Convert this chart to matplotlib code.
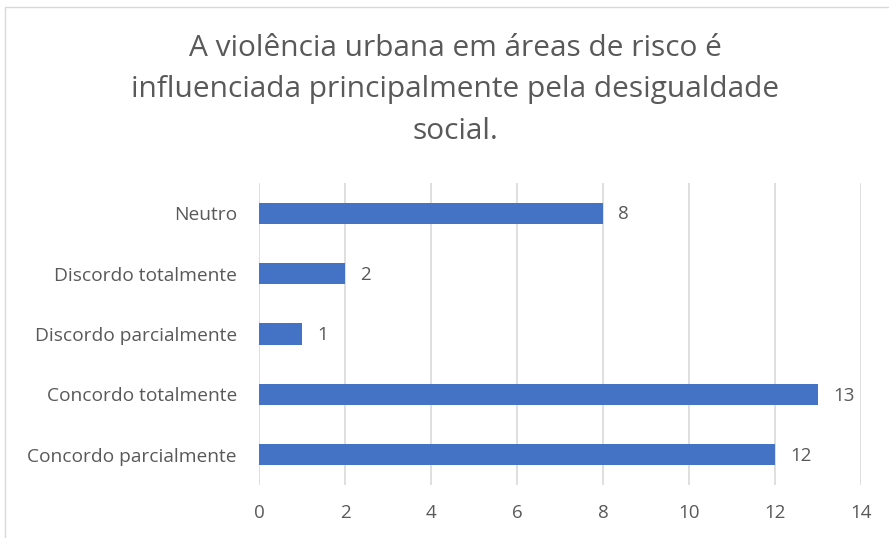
import matplotlib
matplotlib.use("Agg")
import matplotlib.pyplot as plt
from matplotlib.patches import Rectangle

categories = ["Concordo parcialmente", "Concordo totalmente", "Discordo parcialmente",
              "Discordo totalmente", "Neutro"]
values = [12, 13, 1, 2, 8]
xticks = [0, 2, 4, 6, 8, 10, 12, 14]
title = "A violência urbana em áreas de risco é\ninfluenciada principalmente pela desigualdade\nsocial."

plt.rcParams['font.family'] = ['Open Sans', 'DejaVu Sans']
grey = "#595959"

fig = plt.figure(figsize=(8.89, 5.38), dpi=100)
W, H = 889, 538
ax = fig.add_axes([259 / W, 1 - 485 / H, (861 - 259) / W, (485 - 183) / H])

# chart border
fig.patches.append(Rectangle((5 / W, -0.05), 1.1, 1 - 7 / H + 0.05, transform=fig.transFigure,
                             fill=False, edgecolor="#d9d9d9", linewidth=1.0))

ypos = range(len(categories))
ax.barh(ypos, values, height=0.35, color="#4472C4", zorder=3)
for y, v in zip(ypos, values):
    ax.text(v + 0.35, y - 0.02, str(v), va="center", ha="left", fontsize=13.5, color=grey)

ax.set_xlim(0, 14)
ax.set_ylim(-0.5, 4.5)
ax.set_xticks(xticks)
ax.set_xticklabels([str(t) for t in xticks], fontsize=13.5, color=grey)
ax.set_yticks(list(ypos))
ax.set_yticklabels(categories, fontsize=13.8, color=grey)
ax.tick_params(length=0, pad=14, axis="x")
ax.tick_params(length=0, pad=16, axis="y")
ax.xaxis.grid(True, color="#d9d9d9", linewidth=1.2, zorder=0)
for s in ax.spines.values():
    s.set_visible(False)

fig.text(455 / W, 1 - 90 / H, title, ha="center", va="center", fontsize=21.5,
         color=grey, linespacing=1.58)

fig.savefig("out.png", dpi=100)
